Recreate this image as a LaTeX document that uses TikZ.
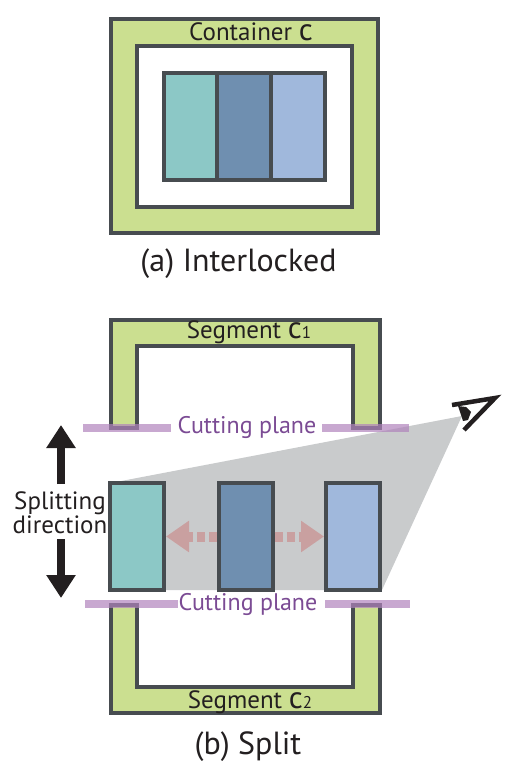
\documentclass[tikz,border=0pt]{standalone}
\usepackage{fontspec}
\setmainfont{PT Sans}
\usetikzlibrary{arrows.meta}
\definecolor{edgegray}{HTML}{474C50}
\definecolor{wallgreen}{HTML}{CBDF90}
\definecolor{tealpart}{HTML}{8CC8C6}
\definecolor{bluepart}{HTML}{6F8FB0}
\definecolor{skypart}{HTML}{A0B8DC}
\definecolor{viewgray}{HTML}{C9CBCC}
\definecolor{planepurple}{HTML}{B083BC}
\definecolor{labelpurple}{HTML}{7B4B94}
\definecolor{splitpink}{HTML}{C9A0A0}
\definecolor{inkblack}{HTML}{231F20}
\tikzset{
	wall/.style={draw=edgegray, fill=wallgreen, line width=4pt, line join=miter},
	partbox/.style={draw=edgegray, line width=4pt, inner sep=0pt, minimum width=54pt, minimum height=107pt},
	planebar/.style={draw=planepurple, line width=8pt, draw opacity=.7},
	planelabel/.style={text=labelpurple, font=\fontsize{24}{28}\selectfont, inner sep=0pt},
	walllabel/.style={text=inkblack, font=\fontsize{25}{28}\selectfont, inner sep=0pt},
	caption/.style={text=inkblack, font=\fontsize{32}{36}\selectfont, inner sep=0pt},
	moveblack/.style={draw=inkblack, line width=7.5pt, -{Triangle[length=23pt,width=28pt]}},
	movepink/.style={draw=splitpink, line width=10pt, dash pattern=on 8pt off 4pt, -{Triangle[length=23pt,width=30pt]}},
}
\begin{document}
\begin{tikzpicture}[x=1pt,y=-1pt]
	\useasboundingbox (0,0) rectangle (530,776);

	% interlocked
	\draw[wall] (110.5,19.5) rectangle (377.5,233);
	\draw[draw=edgegray, fill=white, line width=4pt] (137,46) rectangle (351.5,207);
	\node[partbox, fill=tealpart, minimum width=53.5pt] (lockleft) at (190.5,126.5) {};
	\node[partbox, fill=bluepart, minimum width=53.5pt] (lockmid) at (244,126.5) {};
	\node[partbox, fill=skypart, minimum width=54pt] (lockright) at (297.5,126.5) {};
	\node[walllabel] (containerlabel) at (251,32) {Container {\fontsize{31}{28}\selectfont c}};
	\node[caption] (captiona) at (238.5,264) {(a) Interlocked};

	% split
	\coordinate (eyeapex) at (462,416);
	\coordinate (viewleft) at (116,482);
	\coordinate (viewlow) at (116,590);
	\coordinate (viewright) at (382,590);
	\fill[viewgray] (eyeapex) -- (viewleft) -- (viewlow) -- (viewright) -- cycle;

	\draw[wall] (110.5,428) -- (110.5,320) -- (380,320) -- (380,428) -- (353,428) -- (353,346) -- (137,346) -- (137,428) -- cycle;
	\draw[wall] (110.5,605) -- (110.5,713) -- (380,713) -- (380,605) -- (353,605) -- (353,687) -- (137,687) -- (137,605) -- cycle;
	\node[walllabel] (segmentup) at (249,332) {Segment {\fontsize{31}{28}\selectfont c}\raisebox{-.5pt}{\fontsize{17}{18}\selectfont 1}};
	\node[walllabel] (segmentlow) at (250,702) {Segment {\fontsize{31}{28}\selectfont c}\raisebox{-.5pt}{\fontsize{17}{18}\selectfont 2}};
	\node[caption] (captionb) at (248,747) {(b) Split};

	\node[partbox, fill=tealpart] (splitleft) at (137,536.5) {};
	\node[partbox, fill=bluepart] (splitmid) at (245.5,536.5) {};
	\node[partbox, fill=skypart] (splitright) at (353,536.5) {};

	\draw[movepink] (splitmid.west) -- (splitleft.east);
	\draw[movepink] (splitmid.east) -- (splitright.west);

	\node[planelabel] (planeup) at (247,427) {Cutting plane};
	\node[planelabel] (planelow) at (248,604) {Cutting plane};
	\coordinate (planeupa) at (83,428);
	\coordinate (planeupb) at (171,428);
	\coordinate (planeupc) at (322,428);
	\coordinate (planeupd) at (409,428);
	\coordinate (planelowa) at (85,604);
	\coordinate (planelowb) at (178,604);
	\coordinate (planelowc) at (325,604);
	\coordinate (planelowd) at (410,604);
	\draw[planebar] (planeupa) -- (planeupb);
	\draw[planebar] (planeupc) -- (planeupd);
	\draw[planebar] (planelowa) -- (planelowb);
	\draw[planebar] (planelowc) -- (planelowd);

	\node[text=inkblack, font=\fontsize{25}{24}\selectfont, align=center, inner sep=0pt] (splitlabel) at (60,513) {Splitting\\direction};
	\coordinate (arrowup) at (61,425);
	\coordinate (arrowdown) at (61,598);
	\draw[moveblack] (61,484) -- (arrowup);
	\draw[moveblack] (61,539) -- (arrowdown);

	% eye
	\draw[inkblack, line width=4.5pt, line join=miter] (452,405) -- (495,398) -- (464,430);
	\fill[inkblack] (458,406) -- (463,421) -- (468,420) -- (471,412) -- (466,407) -- cycle;
\end{tikzpicture}
\end{document}
